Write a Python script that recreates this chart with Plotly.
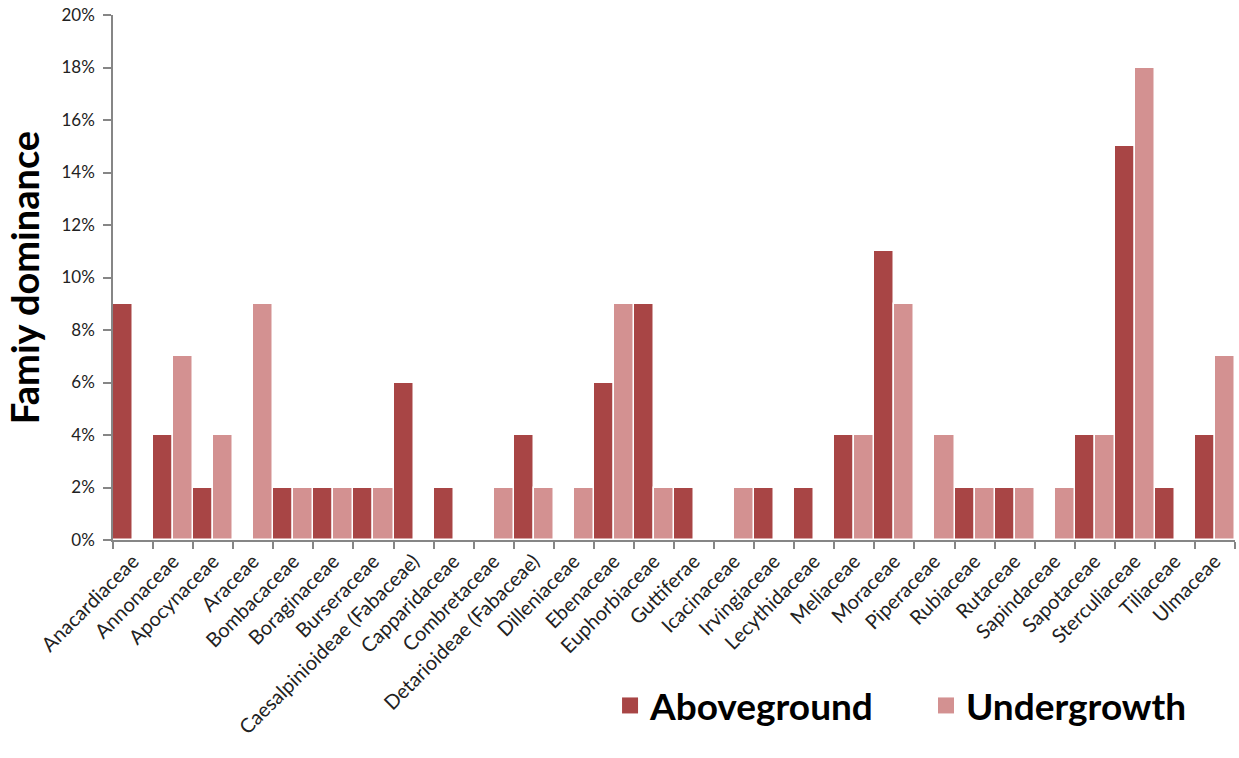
import plotly.graph_objects as go

families = [
    "Anacardiaceae", "Annonaceae", "Apocynaceae", "Araceae", "Bombacaceae",
    "Boraginaceae", "Burseraceae", "Caesalpinioideae (Fabaceae)", "Capparidaceae",
    "Combretaceae", "Detarioideae (Fabaceae)", "Dilleniaceae", "Ebenaceae",
    "Euphorbiaceae", "Guttiferae", "Icacinaceae", "Irvingiaceae", "Lecythidaceae",
    "Meliaceae", "Moraceae", "Piperaceae", "Rubiaceae", "Rutaceae", "Sapindaceae",
    "Sapotaceae", "Sterculiaceae", "Tiliaceae", "Ulmaceae",
]
aboveground = [0.09, 0.04, 0.02, 0.00, 0.02, 0.02, 0.02, 0.06, 0.02, 0.00,
               0.04, 0.00, 0.06, 0.09, 0.02, 0.00, 0.02, 0.02, 0.04, 0.11,
               0.00, 0.02, 0.02, 0.00, 0.04, 0.15, 0.02, 0.04]
undergrowth = [0.00, 0.07, 0.04, 0.09, 0.02, 0.02, 0.02, 0.00, 0.00, 0.02,
               0.02, 0.02, 0.09, 0.02, 0.00, 0.02, 0.00, 0.00, 0.04, 0.09,
               0.04, 0.02, 0.02, 0.02, 0.04, 0.18, 0.00, 0.07]

DARK = "#A84545"
LIGHT = "#D39191"
AXIS = "#868686"
FONT = "Lato"

fig = go.Figure()
fig.add_trace(go.Bar(x=families, y=aboveground, name="Aboveground",
                     marker=dict(color=DARK, line=dict(color="white", width=1.5)),
                     showlegend=False))
fig.add_trace(go.Bar(x=families, y=undergrowth, name="Undergrowth",
                     marker=dict(color=LIGHT, line=dict(color="white", width=1.5)),
                     showlegend=False))

# legend-only entries with square swatches, one legend box per series
for name, col, leg in [("Aboveground", DARK, "legend"), ("Undergrowth", LIGHT, "legend2")]:
    fig.add_trace(go.Scatter(x=[None], y=[None], mode="markers", name=name,
                             legend=leg,
                             marker=dict(symbol="square", size=22, color=col)))

legend_font = dict(family=FONT, size=37, color="black", weight="bold")
fig.update_layout(
    width=1239, height=758,
    margin=dict(l=113, r=4, t=15, b=218),
    plot_bgcolor="white", paper_bgcolor="white",
    barmode="group", bargap=0, bargroupgap=0,
    font=dict(family=FONT, color="#222222"),
    legend=dict(x=0.443, xanchor="left", y=-0.316, yanchor="middle",
                font=legend_font, bgcolor="rgba(0,0,0,0)"),
    legend2=dict(x=0.7246, xanchor="left", y=-0.316, yanchor="middle",
                 font=legend_font, bgcolor="rgba(0,0,0,0)"),
)
fig.update_xaxes(
    type="category", range=[-0.5, 27.5],
    showline=True, linecolor=AXIS, linewidth=1.5,
    ticks="outside", tickson="boundaries", ticklen=7, tickcolor=AXIS, tickwidth=1.5,
    tickangle=-45, tickfont=dict(family=FONT, size=20, color="#222222"),
    showgrid=False,
)
fig.update_yaxes(
    range=[0, 0.2], dtick=0.02, tickformat=".0%",
    showline=True, linecolor=AXIS, linewidth=1.5,
    ticks="outside", ticklen=8, tickcolor=AXIS, tickwidth=1.5,
    ticklabelstandoff=5,
    tickfont=dict(family=FONT, size=17, color="#222222"),
    showgrid=False, zeroline=False,
    title=dict(text="Famiy dominance", standoff=10,
               font=dict(family=FONT, size=38, color="black", weight="bold")),
)

fig.write_html("out.html")
